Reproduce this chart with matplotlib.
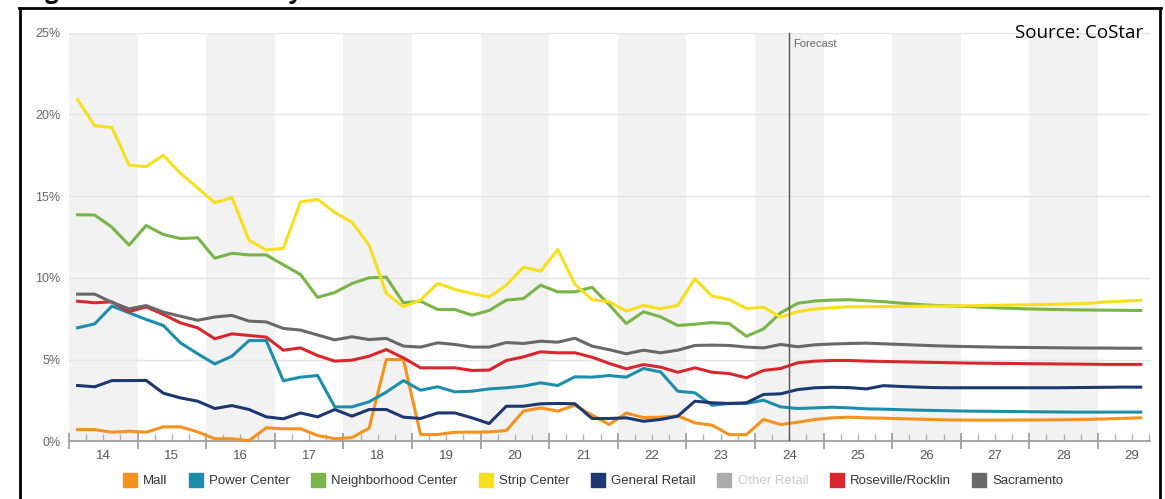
import numpy as np
import pandas as pd
import matplotlib
matplotlib.use("Agg")
import matplotlib.pyplot as plt
from matplotlib.lines import Line2D

plt.rcParams['font.family'] = ['Liberation Sans', 'DejaVu Sans']

# quarterly vacancy rates (%), 2014Q1 .. 2029Q3 (forecast from mid-2024)
quarters = pd.period_range('2014Q1', '2029Q3', freq='Q')

mall = [0.71, 0.71, 0.55, 0.61, 0.55, 0.88, 0.88, 0.57, 0.15, 0.15, 0.03, 0.82, 0.76, 0.76, 0.35, 0.15,
        0.22, 0.80, 5.00, 5.00, 0.41, 0.41, 0.55, 0.55, 0.57, 0.65, 1.84, 2.04, 1.84, 2.20, 1.60, 1.02,
        1.72, 1.45, 1.47, 1.55, 1.12, 0.98, 0.40, 0.40, 1.33, 1.02, 1.16, 1.33, 1.43, 1.47, 1.43,
        1.41, 1.38, 1.35, 1.32, 1.30, 1.29, 1.29, 1.29, 1.30, 1.30, 1.31, 1.32, 1.34, 1.37, 1.40, 1.43]
power_center = [6.94, 7.18, 8.27, 7.86, 7.45, 7.08, 6.02, 5.35, 4.73, 5.20, 6.16, 6.16, 3.70, 3.92, 4.02, 2.10,
                2.10, 2.41, 3.00, 3.71, 3.12, 3.33, 3.02, 3.06, 3.20, 3.27, 3.37, 3.57, 3.41, 3.94, 3.92, 4.02,
                3.92, 4.45, 4.24, 3.06, 2.96, 2.20, 2.31, 2.31, 2.51, 2.10, 2.00, 2.04, 2.08, 2.04, 1.98,
                1.96, 1.93, 1.90, 1.88, 1.86, 1.84, 1.83, 1.82, 1.81, 1.80, 1.79, 1.78, 1.78, 1.78, 1.78, 1.78]
neighborhood = [13.86, 13.84, 13.10, 12.00, 13.20, 12.65, 12.40, 12.45, 11.20, 11.50, 11.40, 11.40, 10.80, 10.20, 8.80, 9.10,
                9.65, 10.00, 10.04, 8.47, 8.57, 8.06, 8.06, 7.71, 8.00, 8.63, 8.73, 9.55, 9.14, 9.14, 9.42, 8.35,
                7.20, 7.92, 7.61, 7.08, 7.16, 7.26, 7.20, 6.42, 6.87, 7.86, 8.44, 8.58, 8.64, 8.66, 8.60,
                8.54, 8.45, 8.37, 8.31, 8.28, 8.24, 8.19, 8.15, 8.11, 8.08, 8.06, 8.04, 8.03, 8.02, 8.01, 8.00]
strip_center = [20.90, 19.30, 19.20, 16.90, 16.80, 17.50, 16.40, 15.50, 14.60, 14.90, 12.30, 11.70, 11.80, 14.65, 14.80, 14.00,
                13.40, 12.00, 9.05, 8.23, 8.64, 9.66, 9.29, 9.04, 8.82, 9.55, 10.65, 10.40, 11.73, 9.60, 8.67, 8.53,
                7.96, 8.31, 8.10, 8.31, 9.94, 8.88, 8.67, 8.12, 8.20, 7.59, 7.93, 8.09, 8.17, 8.23, 8.23,
                8.24, 8.25, 8.26, 8.27, 8.28, 8.29, 8.31, 8.32, 8.34, 8.36, 8.38, 8.41, 8.44, 8.52, 8.57, 8.63]
general_retail = [3.41, 3.33, 3.71, 3.71, 3.72, 2.94, 2.65, 2.45, 2.00, 2.18, 1.94, 1.49, 1.37, 1.73, 1.49, 1.94,
                  1.53, 1.94, 1.94, 1.47, 1.39, 1.73, 1.73, 1.43, 1.08, 2.14, 2.14, 2.29, 2.31, 2.29, 1.39, 1.39,
                  1.43, 1.22, 1.33, 1.53, 2.45, 2.35, 2.31, 2.35, 2.86, 2.90, 3.16, 3.27, 3.30, 3.28, 3.20,
                  3.40, 3.35, 3.31, 3.28, 3.27, 3.27, 3.27, 3.27, 3.27, 3.27, 3.27, 3.28, 3.29, 3.30, 3.31, 3.31]
roseville = [8.57, 8.47, 8.53, 7.93, 8.22, 7.76, 7.24, 6.94, 6.27, 6.57, 6.47, 6.37, 5.57, 5.71, 5.24, 4.90,
             4.96, 5.20, 5.61, 5.10, 4.49, 4.49, 4.49, 4.33, 4.35, 4.94, 5.16, 5.47, 5.41, 5.41, 5.14, 4.76,
             4.43, 4.69, 4.53, 4.22, 4.49, 4.22, 4.14, 3.88, 4.33, 4.45, 4.80, 4.90, 4.94, 4.94, 4.90,
             4.88, 4.86, 4.84, 4.82, 4.80, 4.78, 4.77, 4.76, 4.75, 4.74, 4.73, 4.72, 4.71, 4.70, 4.70, 4.70]
sacramento = [9.00, 9.00, 8.50, 8.10, 8.30, 7.90, 7.65, 7.40, 7.60, 7.70, 7.35, 7.30, 6.90, 6.80, 6.50, 6.20,
              6.39, 6.22, 6.29, 5.82, 5.76, 6.02, 5.92, 5.76, 5.76, 6.04, 5.98, 6.12, 6.06, 6.30, 5.82, 5.60,
              5.35, 5.57, 5.41, 5.57, 5.86, 5.88, 5.86, 5.76, 5.71, 5.92, 5.78, 5.90, 5.95, 5.98, 6.00,
              5.96, 5.92, 5.88, 5.84, 5.81, 5.79, 5.77, 5.75, 5.74, 5.73, 5.72, 5.71, 5.70, 5.70, 5.69, 5.69]

series = [
    ('Mall', mall, '#f5921e'),
    ('Power Center', power_center, '#1c8eab'),
    ('Neighborhood Center', neighborhood, '#78b446'),
    ('Strip Center', strip_center, '#f7df1e'),
    ('General Retail', general_retail, '#1d3772'),
    ('Other Retail', None, '#ababab'),
    ('Roseville/Rocklin', roseville, '#d8262e'),
    ('Sacramento', sacramento, '#686868'),
]
year_labels = ['14', '15', '16', '17', '18', '19', '20', '21', '22', '23', '24', '25', '26', '27', '28', '29']
forecast_start = 2024.5

# decimal-year position of each quarter's midpoint
x = np.array([q.year + (q.quarter - 0.5) / 4 for q in quarters])

W, H = 1165, 499
fig = plt.figure(figsize=(W / 100, H / 100), dpi=100)
ax = fig.add_axes([69 / W, 1 - 441.2 / H, (1150 - 69) / W, (441.2 - 32.7) / H])
ax.set_xlim(2014, 2029.76)
ax.set_ylim(0, 25)

# alternating year bands
first_year = int(year_labels[0]) + 2000
for k in range(len(year_labels)):
    if k % 2 == 0:
        ax.axvspan(first_year + k, first_year + k + 1, color='#f2f2f2', zorder=0, lw=0)
for yv in range(5, 26, 5):
    ax.axhline(yv, color='#e4e4e4', lw=1, zorder=1)

for i, (name, vals, col) in enumerate(series):
    if vals is None:
        continue
    ax.plot(x, vals, color=col, lw=2.2, zorder=3 + i, solid_joinstyle='round', clip_on=False)

ax.axvline(forecast_start, color='#555555', lw=1, zorder=10)
ax.annotate('Forecast', (forecast_start, 24.3), xytext=(3, 0), textcoords='offset points',
            fontsize=8, color='#666666', va='center')

for s in ['top', 'left', 'right']:
    ax.spines[s].set_visible(False)
ax.spines['bottom'].set_color('#a0a0a0')
ax.spines['bottom'].set_linewidth(1.3)

ax.set_yticks(range(0, 26, 5))
ax.set_yticklabels([f'{v}%' for v in range(0, 26, 5)])
ax.tick_params(axis='y', length=0, pad=6, labelsize=9, labelcolor='#666666')

# year boundary ticks (long) and quarter ticks (short)
bounds = np.arange(first_year, first_year + len(year_labels))
ax.set_xticks(bounds)
qticks = [b + q / 4 for b in bounds for q in (1, 2, 3) if b + q / 4 < 2029.76]
ax.set_xticks(qticks, minor=True)
ax.tick_params(axis='x', which='major', direction='inout', length=12, width=1.3,
               color='#a0a0a0', labelbottom=False)
ax.tick_params(axis='x', which='minor', direction='in', length=5, width=1, color='#b0b0b0')

sec = ax.secondary_xaxis('bottom')
sec.set_xticks(bounds + 0.5, labels=year_labels)
sec.tick_params(length=0, pad=6, labelsize=9.5, labelcolor='#555555')
sec.spines['bottom'].set_visible(False)

handles = [Line2D([], [], marker='s', ls='none', markersize=9.5, color=c) for _, _, c in series]
leg = fig.legend(handles, [n for n, _, _ in series], loc='center', bbox_to_anchor=(594 / W, 1 - 481 / H),
                 ncol=8, frameon=False, fontsize=9.5, handlelength=0.8, handletextpad=0.6,
                 columnspacing=1.75)
for t in leg.get_texts():
    t.set_color('#333333')
leg.get_texts()[5].set_color('#cccccc')

fig.text(1143 / W, 1 - 33 / H, 'Source: CoStar', ha='right', va='center', fontsize=13.5,
         family=['Open Sans', 'DejaVu Sans'], color='black')
# report heading sits just above the frame, mostly outside the page
fig.text(25 / W, 1 + 1.5 / H, 'Figure 3: Retail Vacancy Rates', ha='left', va='baseline',
         fontsize=17, fontweight='bold', family=['Open Sans', 'DejaVu Sans'])

# black frame around the chart
frame = dict(transform=fig.transFigure, color='black', lw=2)
fig.add_artist(Line2D([18.5 / W, 1160.5 / W], [1 - 8 / H, 1 - 8 / H], **frame))
fig.add_artist(Line2D([19.5 / W, 19.5 / W], [0, 1 - 8 / H], **frame))
fig.add_artist(Line2D([1160 / W, 1160 / W], [0, 1 - 8 / H], **frame))

fig.savefig('out.png', dpi=100)
